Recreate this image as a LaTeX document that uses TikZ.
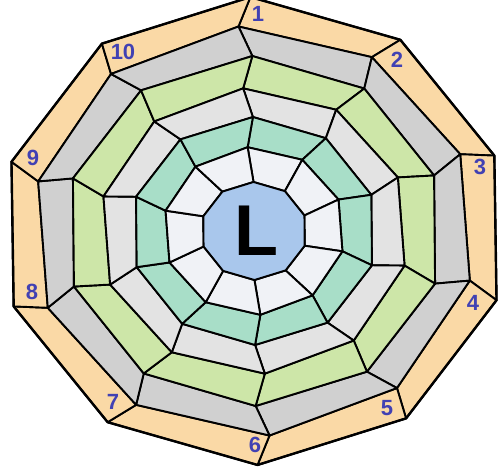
\documentclass[tikz,border=0pt]{standalone}
\usepackage{fontspec}
\setmainfont{Liberation Sans}
\definecolor{ringorange}{HTML}{FAD9A6}
\definecolor{ringgray}{HTML}{D0D0D0}
\definecolor{ringgreen}{HTML}{CDE6A8}
\definecolor{ringlgray}{HTML}{E3E3E3}
\definecolor{ringteal}{HTML}{A8DEC8}
\definecolor{ringwhite}{HTML}{F0F2F6}
\definecolor{centerblue}{HTML}{A9C7EC}
\definecolor{numblue}{HTML}{4141B3}
\begin{document}
\begin{tikzpicture}[x=1pt,y=-1pt,
  seg/.style={draw=black, line width=1.9pt, line join=round},
  num/.style={text=numblue, font=\bfseries\fontsize{22}{22}\selectfont, inner sep=0pt},
  bigl/.style={text=black, font=\bfseries\fontsize{72}{72}\selectfont, inner sep=0pt}]
\useasboundingbox (0,0) rectangle (503,469);
\foreach \k/\r/\o in {1/234/0.8, 2/205/4, 3/175/0.5, 4/143/4, 5/114/0.5, 6/84/4, 7/49/0.5} {
  \foreach \i in {0,...,10} {
    \coordinate (b\k-\i) at ({254+1.085*\r*cos(90-36*\i+\o)},{231-\r*sin(90-36*\i+\o)});
  }
}
\foreach \k/\c in {1/ringorange,2/ringgray,3/ringgreen,4/ringlgray,5/ringteal,6/ringwhite} {
  \pgfmathtruncatemacro\kk{\k+1}
  \foreach \i in {0,...,9} {
    \pgfmathtruncatemacro\j{\i+1}
    \filldraw[seg, fill=\c] (b\k-\i) -- (b\k-\j) -- (b\kk-\j) -- (b\kk-\i) -- cycle;
  }
}
\filldraw[seg, fill=centerblue] (b7-0) -- (b7-1) -- (b7-2) -- (b7-3) -- (b7-4) -- (b7-5) -- (b7-6) -- (b7-7) -- (b7-8) -- (b7-9) -- cycle;
\draw[line width=2.4pt, line join=round] (b1-0) -- (b1-1) -- (b1-2) -- (b1-3) -- (b1-4) -- (b1-5) -- (b1-6) -- (b1-7) -- (b1-8) -- (b1-9) -- cycle;
\node[bigl] (L) at (256,231) {L};
\node[num] (n1) at (258,14) {1};
\node[num] (n2) at (397,60) {2};
\node[num] (n3) at (480,167) {3};
\node[num] (n4) at (473,303) {4};
\node[num] (n5) at (387,408) {5};
\node[num] (n6) at (255,445) {6};
\node[num] (n7) at (113,402) {7};
\node[num] (n8) at (32,292) {8};
\node[num] (n9) at (33,158) {9};
\node[num] (n10) at (123,52) {10};
\end{tikzpicture}
\end{document}
